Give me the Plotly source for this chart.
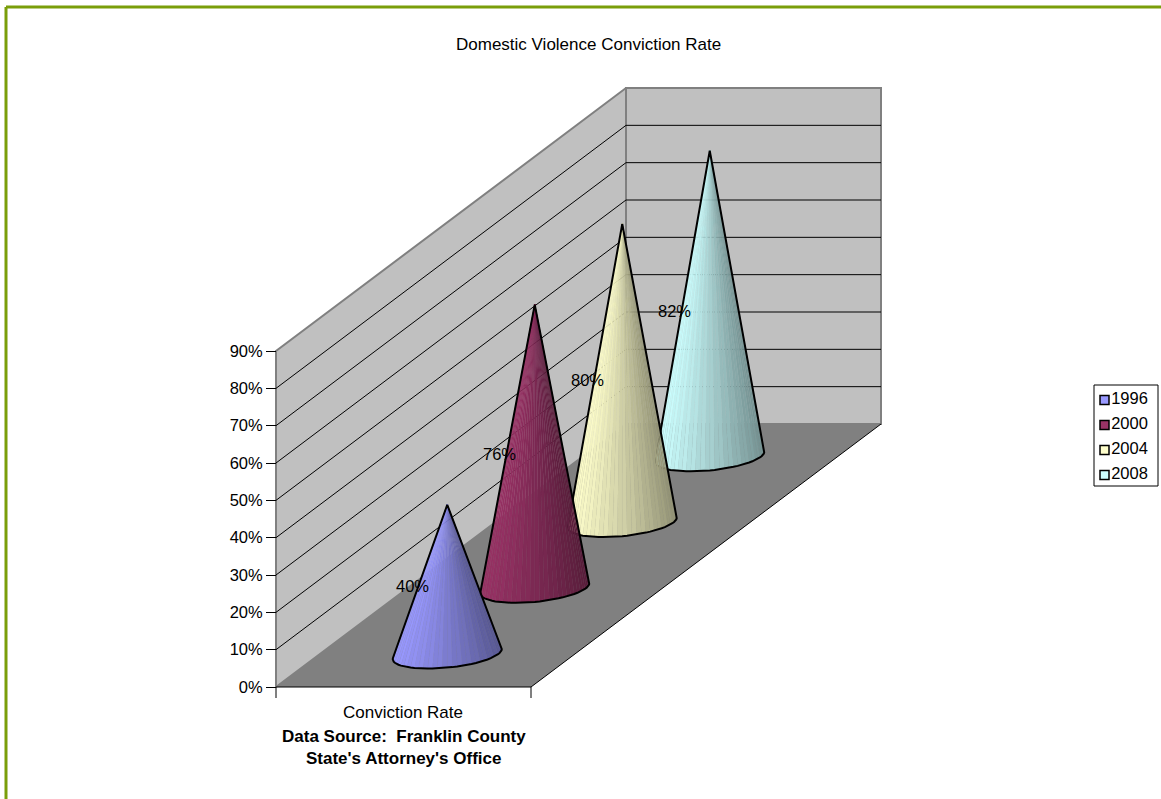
import numpy as np
import plotly.graph_objects as go

# ---- data ----
years = ["1996", "2000", "2004", "2008"]
conviction_rate = [40, 76, 80, 82]
value_ticks = [0, 10, 20, 30, 40, 50, 60, 70, 80, 90]
category = "Conviction Rate"
title = "Domestic Violence Conviction Rate"
source_lines = ["Data Source:  Franklin County", "State's Attorney's Office"]
base_rgb = [(153, 153, 255), (153, 51, 102), (255, 255, 204), (204, 255, 255)]

# ---- oblique projection of the chart's box ----
W, H = 1161, 799
FONT = "Liberation Sans"
FS_NUM, FS_TXT = 16.5, 17
X0, Y0 = 276, 687          # pixel position of the origin
FRONT, DEPTH_X = 255, 350  # pixel extent of category axis / depth axis
PX_PER_UNIT = 336 / 90     # pixels for one percentage point
DEPTH_V = 263 / PX_PER_UNIT
VMAX = 90
yrange = [-(H - Y0) / PX_PER_UNIT, Y0 / PX_PER_UNIT]


def proj(u, w, v):
    return X0 + FRONT * u + DEPTH_X * w, v + DEPTH_V * w


def py(pixel_y):
    return (Y0 - pixel_y) / PX_PER_UNIT


fig = go.Figure()


def poly(points, fill=None, line=None, width=1.0, close=True):
    xs = [p[0] for p in points]
    ys = [p[1] for p in points]
    if close:
        xs.append(xs[0])
        ys.append(ys[0])
    fig.add_trace(go.Scatter(
        x=xs, y=ys, mode="lines",
        fill="toself" if fill else None,
        fillcolor=fill,
        line=dict(color=line or "rgba(0,0,0,0)", width=width if line else 0),
        hoverinfo="skip", showlegend=False))


# walls
poly([proj(0, 0, 0), proj(0, 0, VMAX), proj(0, 1, VMAX), proj(0, 1, 0)], "#C0C0C0", "#808080", 2)
poly([proj(0, 1, 0), proj(0, 1, VMAX), proj(1, 1, VMAX), proj(1, 1, 0)], "#C0C0C0", "#808080", 2)

# grid lines
for v in value_ticks[1:-1]:
    poly([proj(0, 0, v), proj(0, 1, v), proj(1, 1, v)], None, "#000000", 1.0, close=False)

# floor
poly([proj(0, 0, 0), proj(1, 0, 0), proj(1, 1, 0), proj(0, 1, 0)], "#808080", None)
poly([proj(0, 0, 0), proj(1, 0, 0), proj(1, 1, 0)], None, "#000000", 1.0, close=False)

# category axis ticks
for u in (0, 1):
    x_, y_ = proj(u, 0, 0)
    poly([(x_, y_), (x_, y_ - 11 / PX_PER_UNIT)], None, "#000000", 1.0, close=False)

# cones, back to front
R_U, R_W = 0.2, 0.055
N_SLICES = 36
t_all = np.linspace(0, 2 * np.pi, 1441)
for i in range(len(years) - 1, -1, -1):
    val, rgb = conviction_rate[i], base_rgb[i]
    w_c = (i + 0.5) / len(years)
    ex = np.array([proj(0.5 + R_U * np.cos(t), w_c + R_W * np.sin(t), 0)[0] for t in t_all])
    ey = np.array([proj(0.5 + R_U * np.cos(t), w_c + R_W * np.sin(t), 0)[1] for t in t_all])
    ax, ay = proj(0.5, w_c, val)
    # silhouette tangents seen from the apex, in pixel space
    ang = np.arctan2(ex - ax, (ay - ey) * PX_PER_UNIT)
    t_left = t_all[np.argmin(ang)]
    t_right = t_all[np.argmax(ang)]
    # visible arc runs through the front of the base (sin t < 0)
    t_start = t_right
    t_end = t_left
    if t_end > t_start:
        t_start += 2 * np.pi
    ts = np.linspace(t_start, t_end, N_SLICES + 1)
    arc = [proj(0.5 + R_U * np.cos(t), w_c + R_W * np.sin(t), 0) for t in ts]
    arc_x = [a[0] for a in arc]
    xmin, xmax = min(arc_x), max(arc_x)
    for k in range(N_SLICES):
        s = ((arc[k][0] + arc[k + 1][0]) / 2 - xmin) / (xmax - xmin)
        shade = (1.0 - 0.42 * s ** 1.25) * (1.0 if k % 2 else 0.975)
        c = "rgb(%d,%d,%d)" % tuple(int(round(ch * shade)) for ch in rgb)
        poly([(ax, ay), arc[k], arc[k + 1]], c, c, 0.25)
    poly([(ax, ay)] + arc, None, "#000000", 2)

# legend (compact key as in the original)
LEG_X, LEG_Y0, LEG_DY = 1104.5, 400, 25
fig.add_shape(type="rect", xref="x", yref="y", x0=1094, x1=1158,
              y0=py(385), y1=py(486), line=dict(color="#000000", width=1),
              fillcolor="#FFFFFF", layer="below")
for i, (name, rgb) in enumerate(zip(years, base_rgb)):
    fig.add_trace(go.Scatter(
        x=[LEG_X], y=[py(LEG_Y0 + i * LEG_DY)], mode="markers+text",
        text=[name], textposition="middle right",
        textfont=dict(family=FONT, size=FS_NUM, color="#000000"),
        marker=dict(symbol="square", size=9, color="rgb(%d,%d,%d)" % rgb,
                    line=dict(color="#000000", width=1.5)),
        name=name, hoverinfo="skip", showlegend=False))

annotations = []
# data labels
for i, val in enumerate(conviction_rate):
    x_, y_ = proj(0.5, (i + 0.5) / len(years), val / 2)
    annotations.append(dict(x=x_ - 35, y=y_ - 7 / PX_PER_UNIT, text="%d%%" % val,
                            showarrow=False, font=dict(family=FONT, size=FS_NUM, color="#000000")))
# texts
annotations.append(dict(x=588.5, y=py(44), text=title, showarrow=False,
                        font=dict(family=FONT, size=FS_TXT, color="#000000")))
annotations.append(dict(x=403, y=py(712), text=category, showarrow=False,
                        font=dict(family=FONT, size=FS_TXT, color="#000000")))
for line, ypix in zip(source_lines, (736, 758)):
    annotations.append(dict(x=403.5, y=py(ypix), text="<b>%s</b>" % line, showarrow=False,
                            font=dict(family=FONT, size=FS_TXT, color="#000000")))

# green frame (left and top are the visible edges)
fig.add_shape(type="line", xref="paper", yref="paper", x0=6 / W, x1=1, y0=1 - 7 / H, y1=1 - 7 / H,
              line=dict(color="#7A9E0A", width=3))
fig.add_shape(type="line", xref="paper", yref="paper", x0=6 / W, x1=6 / W, y0=0, y1=1 - 7 / H,
              line=dict(color="#7A9E0A", width=3))

fig.update_layout(
    width=W, height=H, margin=dict(l=0, r=0, t=0, b=0),
    paper_bgcolor="#FFFFFF", plot_bgcolor="#FFFFFF",
    showlegend=False, annotations=annotations,
    xaxis=dict(range=[0, W], visible=False, fixedrange=True),
    yaxis=dict(range=yrange, anchor="free", position=X0 / W, showgrid=False, zeroline=False,
               showline=False, tickmode="array", tickvals=value_ticks,
               ticktext=["%d%%" % v for v in value_ticks], ticks="outside", ticklen=10,
               tickcolor="#000000", tickwidth=1, fixedrange=True,
               tickfont=dict(family=FONT, size=FS_NUM, color="#000000")),
)

fig.write_html("out.html", config={"displayModeBar": False},
               post_script="document.body.style.margin='0';")
